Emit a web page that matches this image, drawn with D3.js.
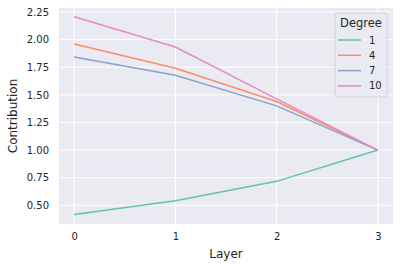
<!DOCTYPE html>
<html>
<head>
<meta charset="utf-8">
<script src="https://cdn.jsdelivr.net/npm/d3@7"></script>
<style>
  body { margin: 0; background: #fff; }
  text { font-family: "DejaVu Sans", sans-serif; fill: #262626; }
</style>
</head>
<body>
<svg id="chart" width="400" height="268"></svg>
<script>
const layers = [0, 1, 2, 3];
const degrees = ['1', '4', '7', '10'];
const deg1 = [0.418, 0.542, 0.717, 1.0];
const deg4 = [1.96, 1.74, 1.44, 1.0];
const deg7 = [1.843, 1.677, 1.40, 1.0];
const deg10 = [2.207, 1.933, 1.463, 1.0];
const yTicks = [0.5, 0.75, 1.0, 1.25, 1.5, 1.75, 2.0, 2.25];
const colors = ['#66c2a5', '#fc8d62', '#8da0cb', '#e78ac3'];

const series = [deg1, deg4, deg7, deg10];

const margin = { left: 59, right: 7, top: 8, bottom: 44 };
const width = 400, height = 268;

const svg = d3.select('#chart');

const x = d3.scaleLinear().domain([-0.15, 3.15]).range([margin.left, width - margin.right]);
const y = d3.scaleLinear().domain([0.331, 2.286]).range([height - margin.bottom, margin.top]);

// background
svg.append('rect')
  .attr('x', margin.left).attr('y', margin.top)
  .attr('width', width - margin.left - margin.right)
  .attr('height', height - margin.top - margin.bottom)
  .attr('fill', '#eaeaf2');

// grid
const grid = svg.append('g');
grid.selectAll('.gx').data(layers).join('line')
  .attr('x1', d => x(d)).attr('x2', d => x(d))
  .attr('y1', margin.top).attr('y2', height - margin.bottom)
  .attr('stroke', '#fff').attr('stroke-width', 1);
grid.selectAll('.gy').data(yTicks).join('line')
  .attr('x1', margin.left).attr('x2', width - margin.right)
  .attr('y1', d => y(d)).attr('y2', d => y(d))
  .attr('stroke', '#fff').attr('stroke-width', 1);

// axes
const xAxis = d3.axisBottom(x).tickValues(layers).tickFormat(d3.format('d')).tickSize(0).tickPadding(9);
const yAxis = d3.axisLeft(y).tickValues(yTicks).tickFormat(d3.format('.2f')).tickSize(0).tickPadding(10);

const gx = svg.append('g')
  .attr('transform', `translate(0, ${height - margin.bottom})`)
  .call(xAxis);
const gy = svg.append('g')
  .attr('transform', `translate(${margin.left}, 0)`)
  .call(yAxis);
[gx, gy].forEach(g => {
  g.select('.domain').remove();
  g.selectAll('text').attr('font-size', 10).attr('fill', '#262626')
    .attr('font-family', '"DejaVu Sans", sans-serif');
});

// labels
svg.append('text')
  .attr('x', (margin.left + width - margin.right) / 2).attr('y', 258)
  .attr('text-anchor', 'middle').attr('font-size', 12)
  .text('Layer');
svg.append('text')
  .attr('transform', `translate(17, ${(margin.top + height - margin.bottom) / 2}) rotate(-90)`)
  .attr('text-anchor', 'middle').attr('font-size', 12)
  .text('Contribution');

// lines
const line = d3.line()
  .x((d, i) => x(layers[i]))
  .y(d => y(d));

svg.append('g').selectAll('path').data(series).join('path')
  .attr('d', line)
  .attr('fill', 'none')
  .attr('stroke', (d, i) => colors[i])
  .attr('stroke-width', 1.5);

// legend
const lg = svg.append('g').attr('transform', 'translate(335, 13)');
lg.append('rect')
  .attr('width', 52).attr('height', 84).attr('rx', 2)
  .attr('fill', '#eaeaf2').attr('fill-opacity', 0.8)
  .attr('stroke', '#cccccc').attr('stroke-width', 0.8);
lg.append('text')
  .attr('x', 26).attr('y', 14).attr('text-anchor', 'middle')
  .attr('font-size', 11.5).text('Degree');
const items = lg.selectAll('.item').data(degrees).join('g')
  .attr('transform', (d, i) => `translate(0, ${27 + i * 15.3})`);
items.append('line')
  .attr('x1', 3).attr('x2', 26).attr('y1', 0).attr('y2', 0)
  .attr('stroke', (d, i) => colors[i]).attr('stroke-width', 1.5);
items.append('text')
  .attr('x', 34).attr('y', 0).attr('dy', '0.35em')
  .attr('font-size', 10).text(d => d);
</script>
</body>
</html>
